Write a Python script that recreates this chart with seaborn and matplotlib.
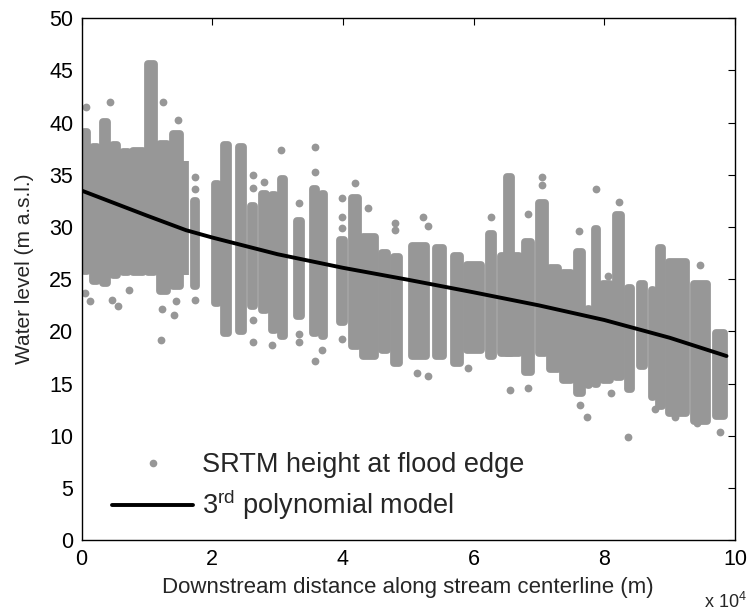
import matplotlib
matplotlib.use("Agg")
import matplotlib.pyplot as plt
from matplotlib.lines import Line2D
import seaborn as sns
import numpy as np

# ---- data (x in units of 1e4 m, y in m a.s.l.) ----
# dense vertical clusters of SRTM points: x extent and y extent (outer edge of dots)
col_left = [0.00, 0.13, 0.28, 0.44, 0.59, 0.75, 0.98, 1.16, 1.36, 1.55, 1.67,
            2.00, 2.14, 2.37, 2.55, 2.72, 2.87, 3.01, 3.25, 3.49, 3.64, 3.91,
            4.10, 4.27, 4.55, 4.73, 5.02, 5.38, 5.66, 5.85, 6.19, 6.38, 6.46,
            6.74, 6.96, 7.13, 7.33, 7.53, 7.71, 7.81, 7.94, 8.14, 8.32, 8.50,
            8.69, 8.79, 8.94, 9.33, 9.67]
col_right = [0.13, 0.28, 0.44, 0.59, 0.75, 0.98, 1.16, 1.36, 1.55, 1.62, 1.79,
             2.14, 2.28, 2.52, 2.69, 2.87, 3.01, 3.15, 3.41, 3.64, 3.76, 4.06,
             4.27, 4.53, 4.72, 4.90, 5.32, 5.58, 5.83, 6.16, 6.34, 6.74, 6.62,
             6.92, 7.13, 7.33, 7.53, 7.71, 7.81, 7.94, 8.13, 8.30, 8.45, 8.65,
             8.79, 8.93, 9.30, 9.62, 9.88]
col_low = [25.4, 24.5, 24.3, 25.0, 25.3, 25.3, 25.3, 23.5, 24.0, 25.0, 24.0,
           22.4, 19.5, 19.7, 22.1, 21.7, 19.8, 19.2, 21.1, 19.5, 19.2, 20.5,
           18.2, 17.3, 17.9, 16.6, 17.3, 17.3, 16.6, 17.9, 17.3, 17.6, 17.6,
           15.7, 17.6, 16.0, 15.0, 13.7, 14.5, 14.6, 15.0, 15.3, 14.1, 16.3,
           13.4, 12.5, 11.8, 11.1, 11.5]
col_high = [39.5, 38.0, 40.4, 38.2, 37.6, 37.7, 46.0, 38.3, 39.3, 36.7, 32.9,
            34.5, 38.2, 38.0, 32.4, 33.5, 33.4, 35.0, 31.0, 34.0, 33.5, 29.1,
            33.2, 29.4, 27.9, 27.5, 28.6, 28.4, 27.6, 26.7, 29.7, 27.6, 35.2,
            28.9, 32.7, 26.5, 26.0, 28.0, 22.5, 30.2, 24.9, 31.5, 24.5, 24.9,
            24.3, 28.4, 27.0, 24.9, 20.2]

# isolated SRTM points outside the dense clusters
pt_x = [0.07, 0.44, 1.25, 1.47, 0.05, 0.13, 0.46, 0.56, 0.72, 1.21, 1.42, 1.45,
        1.23, 1.73, 1.73, 1.73, 2.62, 2.62, 2.62, 2.62, 2.79, 2.92, 3.06, 3.33,
        3.33, 3.33, 3.57, 3.57, 3.68, 3.57, 3.98, 3.98, 3.98, 3.98, 4.18, 4.39,
        4.80, 4.80, 5.13, 5.22, 5.30, 5.30, 5.92, 6.26, 6.56, 6.83, 6.83, 7.04,
        7.04, 7.62, 7.63, 7.73, 7.87, 8.05, 8.10, 8.22, 8.37, 8.78, 9.08, 9.42,
        9.47, 9.77]
pt_y = [41.5, 42.0, 42.0, 40.3, 23.7, 22.9, 23.0, 22.4, 24.0, 19.2, 21.6, 22.9,
        22.2, 34.8, 33.6, 23.0, 35.0, 33.7, 21.1, 19.0, 34.3, 18.7, 37.4, 32.3,
        19.8, 19.0, 37.7, 35.3, 18.2, 17.2, 32.8, 31.0, 29.9, 19.3, 34.2, 31.8,
        30.4, 29.7, 16.0, 31.0, 30.1, 15.7, 16.5, 31.0, 14.4, 31.3, 14.6, 34.8,
        34.0, 29.6, 13.0, 11.8, 33.6, 25.3, 14.1, 32.4, 9.9, 12.6, 11.8, 11.2,
        26.4, 10.4]

# 3rd order polynomial model curve
model_x = [0.0, 0.5, 1.0, 1.6, 2.0, 3.0, 4.0, 5.0, 6.0, 7.0, 8.0, 9.0, 9.87]
model_y = [33.5, 32.3, 31.1, 29.7, 29.0, 27.4, 26.1, 24.95, 23.75, 22.5, 21.1, 19.4, 17.65]

x_ticks = [0, 2, 4, 6, 8, 10]
y_ticks = [0, 5, 10, 15, 20, 25, 30, 35, 40, 45, 50]

# ---- drawing ----
sns.set_style("white")
plt.rcParams['font.family'] = ['Liberation Sans', 'DejaVu Sans']
plt.rcParams['mathtext.default'] = 'regular'

GRAY = '#979797'
DOT_PT = 5.6                      # dot diameter in points

fig = plt.figure(figsize=(7.52, 6.13), dpi=100)
ax = fig.add_axes([0.1084, 0.1186, 0.869, 0.8516])
ax.set_xlim(0, 10)
ax.set_ylim(0, 50)

# dense clusters drawn as bars with a round-cornered outline of one dot radius
r_px = DOT_PT / 2 * fig.dpi / 72
bb = ax.get_window_extent()
rx = 0.75 * r_px * 10 / bb.width      # slight overlap so touching clusters merge
ry = r_px * 50 / bb.height
left = np.array(col_left) + rx
right = np.array(col_right) - rx
low = np.array(col_low) + ry
high = np.array(col_high) - ry
width = np.maximum(right - left, 0.002)
ax.bar(x=(left + right) / 2, height=high - low, bottom=low, width=width,
       color=GRAY, edgecolor=GRAY, linewidth=DOT_PT, joinstyle='round',
       align='center', zorder=2)
sns.scatterplot(x=pt_x, y=pt_y, color=GRAY, s=DOT_PT ** 2, linewidth=0, ax=ax,
                legend=False, zorder=2)
sns.lineplot(x=model_x, y=model_y, color='black', linewidth=2.8, ax=ax,
             zorder=3, sort=True)

ax.set_xlim(0, 10)
ax.set_ylim(0, 50)
ax.set_xticks(x_ticks)
ax.set_yticks(y_ticks)
ax.tick_params(direction='in', top=True, right=True, length=5, width=0.8,
               labelsize=15.5, colors='black', pad=6)
for sp in ax.spines.values():
    sp.set_visible(True)
    sp.set_color('black')
    sp.set_linewidth(1.0)
    sp.set_zorder(5)

ax.set_xlabel('Downstream distance along stream centerline (m)', fontsize=16,
              va='center')
ax.xaxis.set_label_coords(0.5, -0.09)
ax.set_ylabel('Water level (m a.s.l.)', fontsize=15, va='center')
ax.yaxis.set_label_coords(-0.088, 0.52)
ax.text(1.018, -0.118, 'x 10$^4$', transform=ax.transAxes, ha='right',
        va='center', fontsize=13)

handles = [Line2D([], [], linestyle='none', marker='o', markersize=5.5,
                  markerfacecolor=GRAY, markeredgewidth=0),
           Line2D([], [], color='black', linewidth=2.8)]
labels = ['SRTM height at flood edge', '3$^{rd}$ polynomial model']
ax.legend(handles, labels, loc='lower left', bbox_to_anchor=(0.0467, 0.035),
          frameon=False, fontsize=19.5, handlelength=3.0, handletextpad=0.33,
          labelspacing=0.35, borderpad=0, borderaxespad=0)

fig.savefig('out.png', dpi=100)
